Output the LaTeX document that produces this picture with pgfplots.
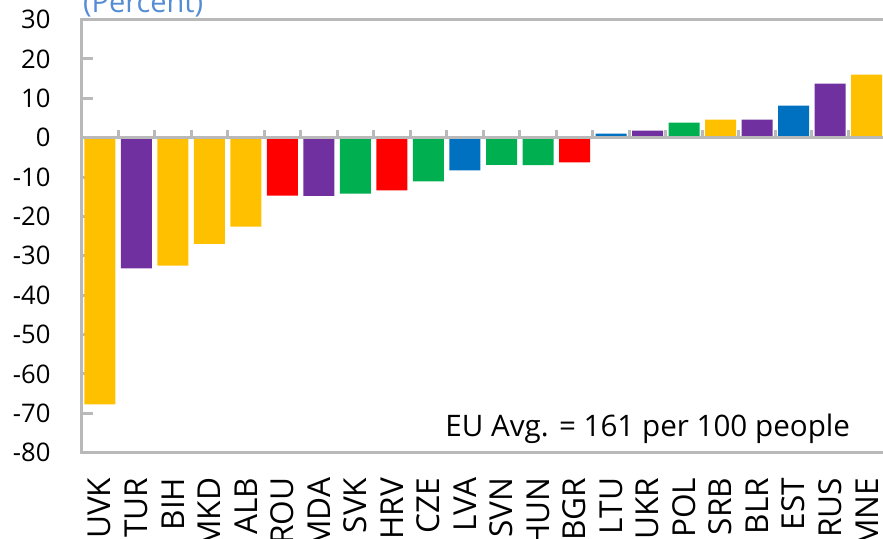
\documentclass[border=0pt]{standalone}
\usepackage{pgfplots}
\pgfplotsset{compat=1.18}
\usepackage{fontspec}
\setmainfont{Open Sans}
\definecolor{cY}{RGB}{255,192,0}
\definecolor{cP}{RGB}{112,48,160}
\definecolor{cR}{RGB}{255,0,0}
\definecolor{cG}{RGB}{0,176,80}
\definecolor{cB}{RGB}{0,112,192}
\definecolor{axgray}{RGB}{185,185,185}
\definecolor{ttl}{RGB}{84,141,212}
\begin{document}
\begin{tikzpicture}
\path[use as bounding box, clip] (0,0) rectangle (441.5pt,269pt);
\begin{axis}[
  at={(40.75pt,42.65pt)}, anchor=south west,
  scale only axis, width=401.75pt, height=216.6pt,
  xmin=-0.5, xmax=21.5, ymin=-80, ymax=30,
  ytick={-80,-70,...,30},
  xtick={0,...,21},
  xticklabels={UVK,TUR,BIH,MKD,ALB,ROU,MDA,SVK,HRV,CZE,LVA,SVN,HUN,BGR,LTU,UKR,POL,SRB,BLR,EST,RUS,MNE},
  x tick label style={rotate=90, anchor=east, font=\fontsize{15.8}{15.8}\selectfont},
  xticklabel shift=3.5pt,
  y tick label style={font=\fontsize{12.8}{12.8}\selectfont},
  yticklabel shift=12pt,
  /pgf/number format/assume math mode=true,
  axis line style={axgray, line width=1.4pt},
  ytick style={axgray, line width=1.5pt},
  xtick style={draw=none},
  major tick length=5.5pt,
  tick align=inside,
  ytick pos=left, xtick pos=bottom,
  ybar, bar width=15.5pt, bar shift=0pt,
  every axis plot/.append style={draw=none},
  clip=false,
]
\addplot[fill=cY] coordinates {(0,-67.7) (2,-32.5) (3,-27.0) (4,-22.6) (17,4.6) (21,16.0)};
\addplot[fill=cP] coordinates {(1,-33.2) (6,-14.8) (15,1.8) (18,4.6) (20,13.7)};
\addplot[fill=cR] coordinates {(5,-14.7) (8,-13.4) (13,-6.3)};
\addplot[fill=cG] coordinates {(7,-14.2) (9,-11.1) (11,-6.9) (12,-7.0) (16,3.8)};
\addplot[fill=cB] coordinates {(10,-8.3) (14,1.0) (19,8.1)};
\draw[axgray, line width=1.5pt] (axis cs:-0.5,0) -- (axis cs:21.5,0);
\pgfplotsinvokeforeach{0,...,20}{
  \draw[axgray, line width=1.5pt] (axis cs:#1.5,0) -- ([yshift=4pt]axis cs:#1.5,0);
}
\draw[axgray, line width=1.4pt] (rel axis cs:0,0) -- (rel axis cs:1.01,0);
\draw[axgray, line width=1.4pt] (rel axis cs:0,1) -- (rel axis cs:1.01,1);
\end{axis}
\node[anchor=base east, font=\fontsize{14.8}{14.8}\selectfont] at (428.5pt,50.65pt) {EU Avg. = 161 per 100 people};
\node[anchor=base west, inner sep=0pt, text=ttl, font=\fontsize{14.5}{14.5}\selectfont] at (41.3pt,263pt) {(Percent)};
\end{tikzpicture}
\end{document}
